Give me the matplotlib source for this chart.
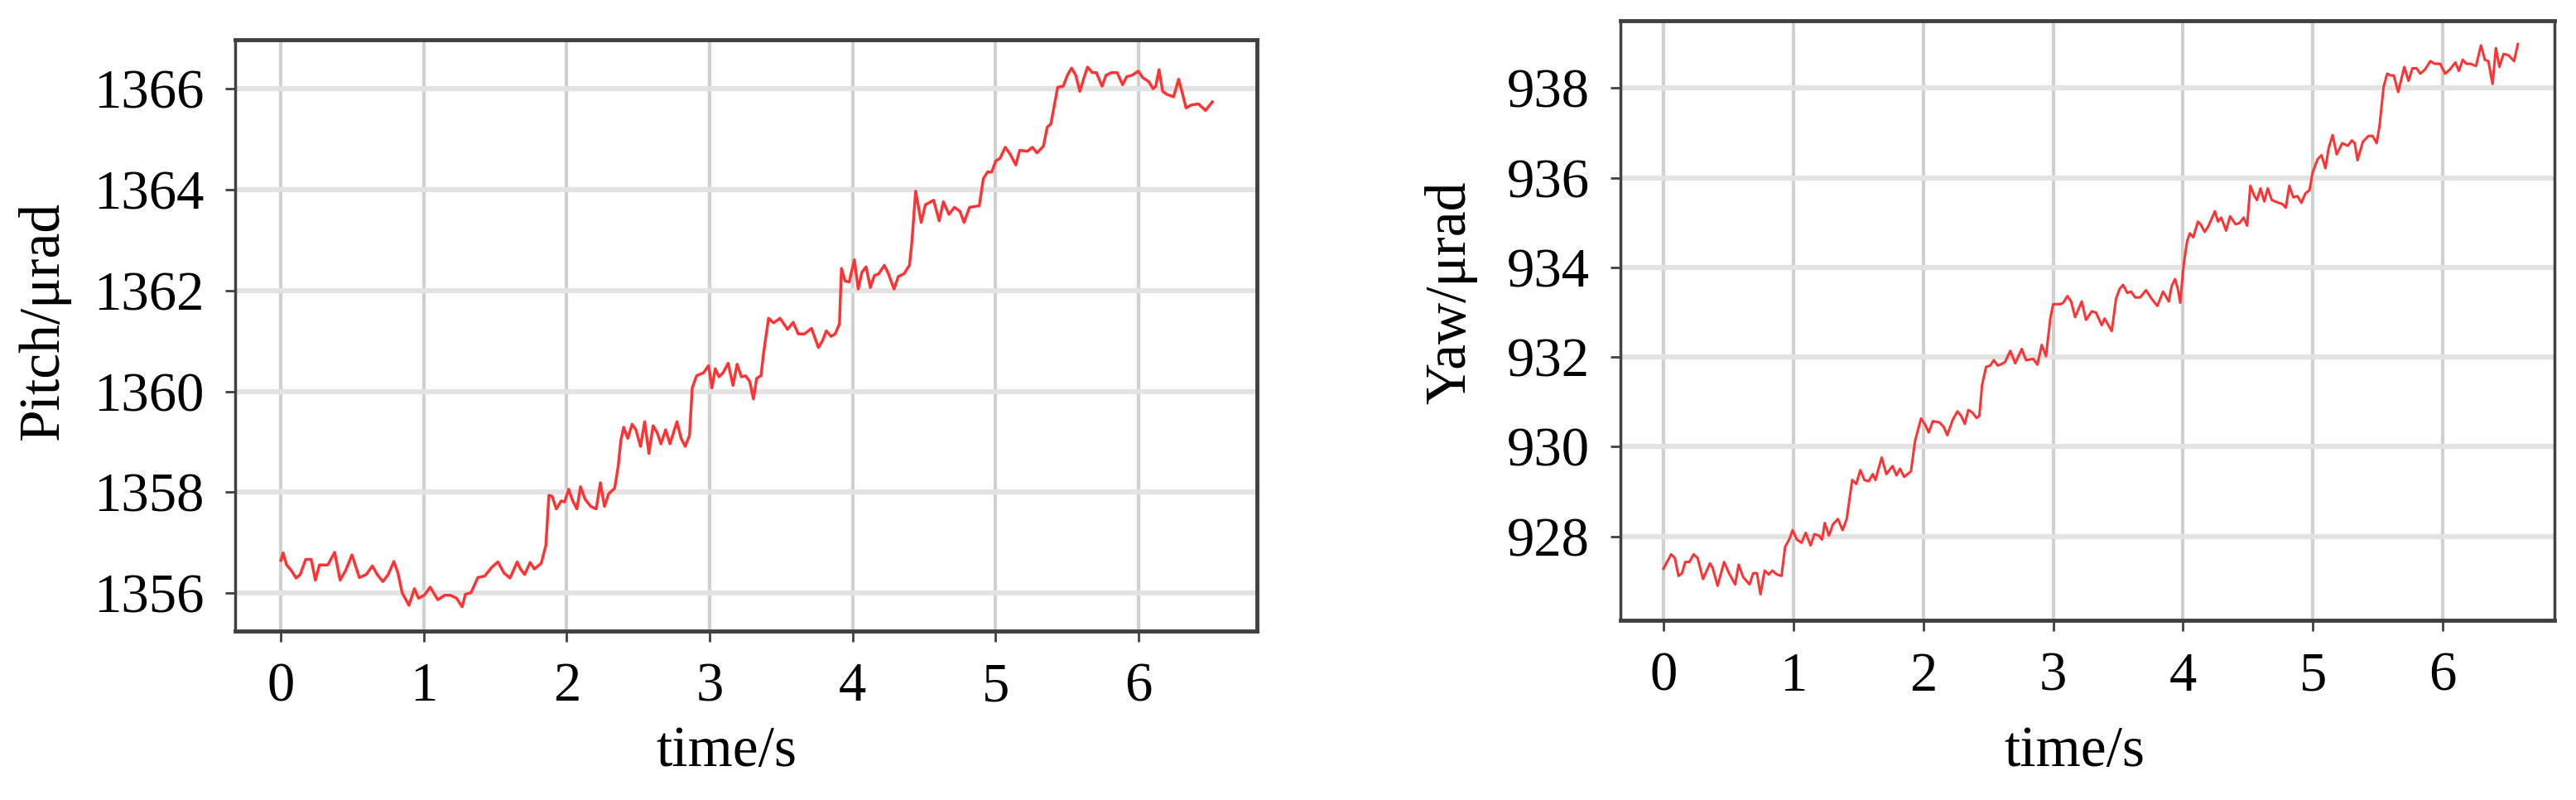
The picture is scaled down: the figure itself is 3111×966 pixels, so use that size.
import matplotlib
matplotlib.use("Agg")
import matplotlib.pyplot as plt

plt.rcParams.update({
    "font.family": ["Liberation Serif", "DejaVu Serif"],
    "font.size": 48,
})

# Pitch trace (time in s, value in urad)
pitch_t = [0.00, 0.015, 0.04, 0.073, 0.106, 0.135, 0.173, 0.212, 0.241, 0.27,
           0.328, 0.376, 0.414, 0.453, 0.497, 0.549, 0.597, 0.64, 0.674, 0.713,
           0.751, 0.79, 0.819, 0.848, 0.896, 0.934, 0.963, 1.002, 1.044, 1.098,
           1.146, 1.185, 1.229, 1.268, 1.291, 1.33, 1.378, 1.426, 1.474, 1.518,
           1.561, 1.603, 1.653, 1.676, 1.705, 1.744, 1.773, 1.821, 1.854, 1.875,
           1.898, 1.927, 1.961, 1.985, 2.013, 2.042, 2.071, 2.096, 2.129, 2.168,
           2.206, 2.235, 2.264, 2.293, 2.335, 2.36, 2.378, 2.398, 2.427, 2.457,
           2.484, 2.516, 2.545, 2.575, 2.604, 2.633, 2.659, 2.692, 2.722, 2.771,
           2.80, 2.829, 2.859, 2.878, 2.908, 2.957, 2.992, 3.016, 3.039, 3.065,
           3.094, 3.129, 3.163, 3.192, 3.222, 3.251, 3.28, 3.306, 3.329, 3.359,
           3.378, 3.412, 3.447, 3.492, 3.545, 3.584, 3.62, 3.663, 3.712, 3.761,
           3.79, 3.816, 3.849, 3.878, 3.908, 3.922, 3.947, 3.976, 4.012, 4.039,
           4.065, 4.094, 4.124, 4.153, 4.182, 4.222, 4.251, 4.29, 4.32, 4.359,
           4.398, 4.415, 4.441, 4.48, 4.509, 4.567, 4.606, 4.635, 4.674, 4.712,
           4.751, 4.78, 4.818, 4.886, 4.915, 4.944, 4.973, 5.002, 5.031, 5.068,
           5.103, 5.142, 5.169, 5.223, 5.258, 5.29, 5.335, 5.362, 5.387, 5.412,
           5.435, 5.474, 5.503, 5.532, 5.561, 5.59, 5.619, 5.644, 5.677, 5.706,
           5.745, 5.774, 5.812, 5.851, 5.889, 5.918, 5.957, 5.999, 6.03, 6.073,
           6.102, 6.121, 6.144, 6.169, 6.198, 6.246, 6.281, 6.304, 6.333, 6.372,
           6.42, 6.469, 6.517]
pitch_val = [1356.65, 1356.80, 1356.56, 1356.45, 1356.30, 1356.37, 1356.67, 1356.67, 1356.26, 1356.56,
             1356.56, 1356.81, 1356.26, 1356.45, 1356.76, 1356.31, 1356.37, 1356.54, 1356.37, 1356.23,
             1356.37, 1356.63, 1356.40, 1356.01, 1355.76, 1356.09, 1355.90, 1355.96, 1356.12, 1355.87,
             1355.96, 1355.96, 1355.90, 1355.73, 1355.98, 1356.01, 1356.31, 1356.34, 1356.51, 1356.62,
             1356.40, 1356.30, 1356.62, 1356.48, 1356.37, 1356.61, 1356.48, 1356.59, 1356.95, 1357.94,
             1357.92, 1357.67, 1357.83, 1357.81, 1358.06, 1357.83, 1357.67, 1358.11, 1357.86, 1357.72,
             1357.67, 1358.19, 1357.72, 1357.97, 1358.08, 1358.52, 1359.02, 1359.29, 1359.07, 1359.35,
             1359.24, 1358.91, 1359.40, 1358.77, 1359.32, 1359.18, 1358.96, 1359.24, 1358.96, 1359.40,
             1359.07, 1358.91, 1359.13, 1360.07, 1360.31, 1360.37, 1360.51, 1360.07, 1360.45, 1360.29,
             1360.37, 1360.56, 1360.12, 1360.54, 1360.29, 1360.31, 1360.20, 1359.85, 1360.26, 1360.31,
             1360.78, 1361.45, 1361.36, 1361.45, 1361.23, 1361.37, 1361.14, 1361.14, 1361.25, 1360.87,
             1361.01, 1361.20, 1361.09, 1361.14, 1361.34, 1362.44, 1362.19, 1362.17, 1362.61, 1362.03,
             1362.36, 1362.47, 1362.06, 1362.30, 1362.33, 1362.50, 1362.33, 1362.03, 1362.28, 1362.33,
             1362.50, 1362.97, 1363.97, 1363.35, 1363.70, 1363.79, 1363.38, 1363.76, 1363.51, 1363.65,
             1363.57, 1363.35, 1363.65, 1363.68, 1364.22, 1364.35, 1364.35, 1364.57, 1364.62, 1364.84,
             1364.70, 1364.49, 1364.78, 1364.76, 1364.84, 1364.73, 1364.86, 1365.24, 1365.30, 1365.68,
             1366.03, 1366.05, 1366.27, 1366.41, 1366.27, 1365.95, 1366.22, 1366.43, 1366.32, 1366.32,
             1366.05, 1366.27, 1366.32, 1366.32, 1366.08, 1366.24, 1366.27, 1366.35, 1366.22, 1366.14,
             1366.00, 1366.05, 1366.38, 1365.95, 1365.89, 1365.84, 1366.19, 1365.95, 1365.62, 1365.68,
             1365.70, 1365.57, 1365.74]

# Yaw trace
yaw_t = [0.00, 0.059, 0.088, 0.116, 0.143, 0.168, 0.20, 0.232, 0.263, 0.305,
         0.358, 0.379, 0.417, 0.467, 0.505, 0.552, 0.579, 0.615, 0.663, 0.691,
         0.72, 0.747, 0.779, 0.811, 0.838, 0.874, 0.909, 0.937, 0.968, 0.994,
         1.027, 1.063, 1.095, 1.133, 1.162, 1.196, 1.221, 1.242, 1.274, 1.305,
         1.343, 1.379, 1.411, 1.453, 1.484, 1.516, 1.547, 1.579, 1.611, 1.632,
         1.68, 1.716, 1.764, 1.794, 1.821, 1.853, 1.905, 1.937, 1.983, 2.017,
         2.042, 2.074, 2.126, 2.158, 2.185, 2.227, 2.263, 2.291, 2.32, 2.347,
         2.379, 2.411, 2.432, 2.453, 2.484, 2.516, 2.543, 2.573, 2.60, 2.63,
         2.67, 2.708, 2.758, 2.791, 2.846, 2.879, 2.912, 2.945, 2.978, 3.00,
         3.055, 3.077, 3.11, 3.138, 3.169, 3.22, 3.253, 3.297, 3.33, 3.374,
         3.396, 3.451, 3.484, 3.512, 3.538, 3.571, 3.60, 3.631, 3.67, 3.714,
         3.758, 3.802, 3.846, 3.89, 3.912, 3.938, 3.96, 3.978, 4.004, 4.031,
         4.052, 4.079, 4.114, 4.135, 4.166, 4.197, 4.245, 4.269, 4.294, 4.331,
         4.362, 4.404, 4.435, 4.466, 4.493, 4.518, 4.549, 4.569, 4.596, 4.625,
         4.652, 4.683, 4.735, 4.766, 4.791, 4.818, 4.849, 4.88, 4.911, 4.942,
         4.973, 4.998, 5.035, 5.066, 5.096, 5.12, 5.151, 5.183, 5.225, 5.268,
         5.299, 5.321, 5.343, 5.384, 5.427, 5.459, 5.49, 5.512, 5.544, 5.571,
         5.597, 5.622, 5.656, 5.703, 5.735, 5.766, 5.798, 5.826, 5.862, 5.904,
         5.936, 5.979, 6.017, 6.053, 6.096, 6.123, 6.153, 6.18, 6.212, 6.255,
         6.293, 6.323, 6.35, 6.382, 6.408, 6.435, 6.467, 6.505, 6.548, 6.577]
yaw_val = [927.28, 927.60, 927.52, 927.12, 927.18, 927.43, 927.43, 927.60, 927.52, 927.05,
           927.40, 927.30, 926.90, 927.43, 927.18, 926.93, 927.37, 927.09, 926.93, 927.18,
           927.18, 926.71, 927.24, 927.15, 927.24, 927.15, 927.12, 927.77, 927.93, 928.14,
           927.93, 927.86, 928.08, 927.80, 928.05, 928.02, 927.93, 928.30, 928.02, 928.27,
           928.39, 928.14, 928.39, 929.26, 929.17, 929.48, 929.26, 929.23, 929.39, 929.26,
           929.76, 929.39, 929.57, 929.36, 929.51, 929.33, 929.45, 930.13, 930.63, 930.48,
           930.32, 930.57, 930.54, 930.44, 930.26, 930.60, 930.79, 930.69, 930.51, 930.82,
           930.76, 930.64, 930.69, 931.38, 931.78, 931.81, 931.93, 931.81, 931.84, 931.89,
           932.14, 931.86, 932.18, 931.93, 931.96, 931.83, 932.27, 932.02, 932.86, 933.18,
           933.18, 933.21, 933.36, 933.24, 932.89, 933.24, 932.83, 933.02, 932.99, 932.71,
           932.86, 932.58, 933.30, 933.52, 933.61, 933.43, 933.46, 933.33, 933.33, 933.49,
           933.30, 933.14, 933.46, 933.24, 933.58, 933.74, 933.52, 933.21, 934.05, 934.58,
           934.76, 934.67, 935.02, 934.96, 934.79, 934.93, 935.25, 935.02, 935.11, 934.82,
           935.14, 934.96, 934.99, 935.11, 934.93, 935.82, 935.59, 935.50, 935.76, 935.47,
           935.76, 935.50, 935.44, 935.41, 935.33, 935.82, 935.56, 935.59, 935.44, 935.65,
           935.72, 936.12, 936.41, 936.50, 936.21, 936.65, 936.95, 936.52, 936.77, 936.71,
           936.83, 936.77, 936.39, 936.80, 936.93, 936.93, 936.77, 937.15, 938.03, 938.32,
           938.28, 938.28, 937.91, 938.47, 938.16, 938.44, 938.44, 938.32, 938.41, 938.60,
           938.54, 938.54, 938.32, 938.41, 938.57, 938.38, 938.63, 938.54, 938.54, 938.49,
           938.95, 938.63, 938.60, 938.09, 938.89, 938.47, 938.76, 938.73, 938.60, 938.98]

time_ticks = [0, 1, 2, 3, 4, 5, 6]
pitch_ticks = [1356, 1358, 1360, 1362, 1364, 1366]
yaw_ticks = [928, 930, 932, 934, 936, 938]

fig = plt.figure(figsize=(31.11, 9.66), dpi=100)
ax1 = fig.add_axes([0.0913, 0.2112, 0.3967, 0.739])
ax2 = fig.add_axes([0.6291, 0.2246, 0.3626, 0.7495])

spine_col = "#404040"


def style(ax, yticks, ylabel, ylab_xy, xlab_xy):
    ax.set_axisbelow(True)
    ax.xaxis.grid(True, color="#d0d0d0", linewidth=3)
    ax.yaxis.grid(True, color="#e3e3e3", linewidth=4.5)
    ax.set_xticks(time_ticks)
    ax.set_yticks(yticks)
    ax.tick_params(direction="out", length=9, width=2, color=spine_col,
                   labelsize=48, pad=18)
    for side in ["top", "bottom"]:
        ax.spines[side].set_linewidth(3.5)
        ax.spines[side].set_color(spine_col)
    for side in ["left", "right"]:
        ax.spines[side].set_linewidth(2.5)
        ax.spines[side].set_color(spine_col)
    ax.set_xlabel("time/s", fontsize=50, va="center")
    ax.set_ylabel(ylabel, fontsize=50, va="center")
    ax.xaxis.set_label_coords(*xlab_xy)
    ax.yaxis.set_label_coords(*ylab_xy)


ax1.plot(pitch_t, pitch_val, color="#ff3333", linewidth=2.5)
ax1.set_xlim(-0.32, 6.83)
ax1.set_ylim(1355.25, 1366.97)
style(ax1, pitch_ticks, "Pitch/μrad", (-0.187, 0.525), (0.481, -0.205))
ax1.spines["right"].set_linewidth(3.5)

ax2.plot(yaw_t, yaw_val, color="#ff3333", linewidth=2.2)
ax2.set_xlim(-0.33, 6.86)
ax2.set_ylim(926.13, 939.5)
style(ax2, yaw_ticks, "Yaw/μrad", (-0.182, 0.547), (0.486, -0.22))

fig.savefig("out.png", dpi=100)
